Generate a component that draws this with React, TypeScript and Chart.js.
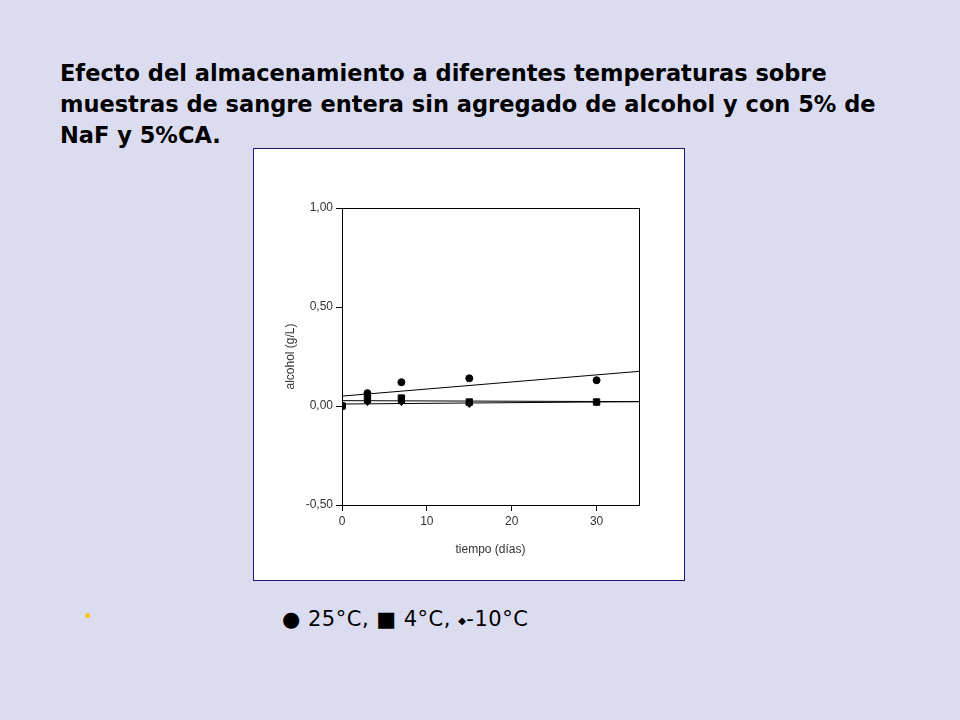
import React, { useEffect, useRef } from "react";
import { Chart, registerables } from "chart.js";

Chart.register(...registerables);

const days = [0, 3, 7, 15, 30];
const temp25 = [0, 0.065, 0.12, 0.14, 0.13];
const temp4 = [0, 0.04, 0.04, 0.02, 0.02];
const tempMinus10 = [0, 0.02, 0.02, 0.01, 0.02];
const trendX = [0, 35];
const trend25 = [0.05, 0.175];
const trend4 = [0.027, 0.022];
const trendMinus10 = [0.01, 0.022];
const yTicks = [-0.5, 0, 0.5, 1];
const xTicks = [0, 10, 20, 30];

const titleLines = [
  "Efecto del almacenamiento a diferentes temperaturas sobre",
  "muestras de sangre entera sin agregado de alcohol y con 5% de",
  "NaF y 5%CA.",
];

const pts = (xs: number[], ys: number[]) => xs.map((x, i) => ({ x, y: ys[i] }));

const boxPlugin = {
  id: "boxPlugin",
  afterDraw(chart: any) {
    const { ctx, chartArea } = chart;
    ctx.save();
    ctx.strokeStyle = "#000";
    ctx.lineWidth = 1;
    ctx.strokeRect(
      Math.round(chartArea.left) + 0.5,
      Math.round(chartArea.top) + 0.5,
      Math.round(chartArea.right - chartArea.left),
      Math.round(chartArea.bottom - chartArea.top)
    );
    ctx.restore();
  },
};

function ChartBox() {
  const ref = useRef<HTMLCanvasElement>(null);
  useEffect(() => {
    if (!ref.current) return;
    const pointBase = {
      type: "scatter" as const,
      backgroundColor: "#000",
      borderColor: "#000",
      showLine: false,
    };
    const lineBase = {
      type: "line" as const,
      borderColor: "#000",
      borderWidth: 1,
      pointRadius: 0,
      fill: false,
    };
    const chart = new Chart(ref.current, {
      type: "scatter",
      data: {
        datasets: [
          { ...lineBase, label: "t25", data: pts(trendX, trend25) },
          { ...lineBase, label: "t4", data: pts(trendX, trend4) },
          { ...lineBase, label: "t-10", data: pts(trendX, trendMinus10) },
          { ...pointBase, label: "25°C", data: pts(days, temp25), pointStyle: "circle", pointRadius: 3.5 },
          { ...pointBase, label: "4°C", data: pts(days, temp4), pointStyle: "rect", pointRadius: 4.5 },
          { ...pointBase, label: "-10°C", data: pts(days, tempMinus10), pointStyle: "rectRot", pointRadius: 3.5 },
        ],
      } as any,
      options: {
        animation: false,
        responsive: false,
        layout: { padding: { left: 29, top: 59, right: 45, bottom: 23 } },
        plugins: { legend: { display: false }, tooltip: { enabled: false } },
        scales: {
          x: {
            type: "linear",
            min: 0,
            max: 35,
            afterBuildTicks: (s: any) => {
              s.ticks = xTicks.map((v) => ({ value: v }));
            },
            afterFit: (s: any) => {
              s.height = 52;
            },
            grid: { drawOnChartArea: false, color: "#000", tickLength: 6 },
            border: { color: "#000" },
            ticks: { color: "#333", font: { family: "Liberation Sans", size: 12 }, padding: 3, maxRotation: 0 },
            title: {
              display: true,
              text: "tiempo (días)",
              color: "#333",
              font: { family: "Liberation Sans", size: 12 },
              padding: { top: 4, bottom: 0 },
            },
          },
          y: {
            type: "linear",
            min: -0.5,
            max: 1,
            afterBuildTicks: (s: any) => {
              s.ticks = yTicks.map((v) => ({ value: v }));
            },
            afterFit: (s: any) => {
              s.width = 59;
            },
            grid: { drawOnChartArea: false, color: "#000", tickLength: 6 },
            border: { color: "#000" },
            ticks: {
              color: "#333",
              font: { family: "Liberation Sans", size: 12 },
              padding: 3,
              callback: (v: any) => Number(v).toFixed(2).replace(".", ","),
            },
            title: {
              display: true,
              text: "alcohol (g/L)",
              color: "#333",
              font: { family: "Liberation Sans", size: 12 },
              padding: 0,
            },
          },
        },
      },
      plugins: [boxPlugin],
    });
    return () => chart.destroy();
  }, []);
  return <canvas ref={ref} width={430} height={431} style={{ display: "block" }} />;
}

export default function App() {
  return (
    <div
      style={{
        position: "absolute",
        left: 0,
        top: 0,
        width: 960,
        height: 720,
        background: "#dcdcf0",
        overflow: "hidden",
      }}
    >
      <div
        style={{
          position: "absolute",
          left: 60,
          top: 58,
          fontFamily: "'DejaVu Sans', sans-serif",
          fontWeight: "bold",
          fontSize: 22.5,
          lineHeight: "31px",
          color: "#000",
          whiteSpace: "nowrap",
        }}
      >
        {titleLines.map((l, i) => (
          <div key={i}>{l}</div>
        ))}
      </div>
      <div
        style={{
          position: "absolute",
          left: 253,
          top: 148,
          width: 430,
          height: 431,
          border: "1px solid #1a1a6e",
          background: "#fff",
        }}
      >
        <ChartBox />
      </div>
      <div
        style={{
          position: "absolute",
          left: 85,
          top: 613,
          width: 5,
          height: 5,
          borderRadius: "50%",
          background: "#f5c518",
        }}
      />
      <div
        style={{
          position: "absolute",
          left: 282,
          top: 607,
          fontFamily: "'DejaVu Sans', sans-serif",
          fontSize: 21,
          letterSpacing: 0.5,
          color: "#000",
          whiteSpace: "nowrap",
        }}
      >
        ● 25°C, ■ 4°C, <span style={{ fontSize: 10, verticalAlign: "middle" }}>◆</span>-10°C
      </div>
    </div>
  );
}
